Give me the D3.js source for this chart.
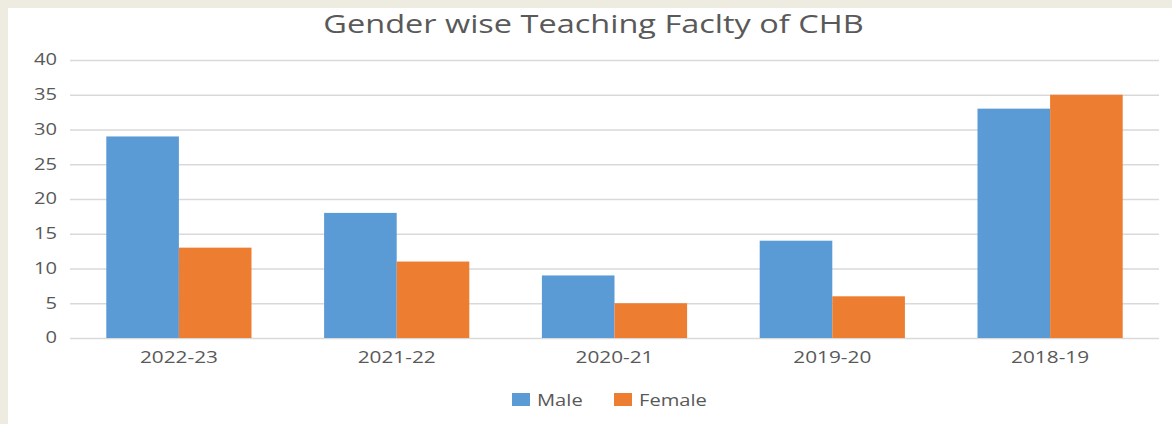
<!DOCTYPE html>
<html><head><meta charset="utf-8">
<script src="https://cdn.jsdelivr.net/npm/d3@7"></script>
<style>body{margin:0;background:#EEEBE1;}svg{display:block;}</style>
</head><body><svg id="c" width="1172" height="424"></svg>
<script>
const categories = ["2022-23","2021-22","2020-21","2019-20","2018-19"];
const maleValues = [29,18,9,14,33];
const femaleValues = [13,11,5,6,35];
const seriesNames = ["Male","Female"];
const yTicks = [0,5,10,15,20,25,30,35,40];
const colors = ["#5B9BD5","#ED7D31"];
const title = "Gender wise Teaching Faclty of CHB";

const SX = 1.3; // horizontal stretch of the reference rendering
function stretch(sel){
  sel.each(function(){
    const t = d3.select(this);
    const ax = +t.attr("x") || 0;
    t.attr("transform", `translate(${ax},0) scale(${SX},1) translate(${-ax},0)`);
  });
}

const svg = d3.select("#c");
svg.append("rect").attr("x",8).attr("y",8).attr("width",1164).attr("height",416).attr("fill","#fff");
const m = {l:70, r:1159, t:60, b:338};
const x = d3.scaleBand().domain(categories).range([m.l,m.r]).padding(0);
const y = d3.scaleLinear().domain([0,40]).range([m.b,m.t]);
const font = "'Open Sans', sans-serif";
const tc = "#595959";

svg.append("text").attr("x",593.5).attr("y",33).attr("text-anchor","middle")
  .attr("font-family",font).attr("font-size",25).attr("fill",tc).text(title).call(stretch);

const yAxis = svg.append("g").attr("transform",`translate(${m.l},0)`)
  .call(d3.axisLeft(y).tickValues(yTicks).tickSize(-(m.r-m.l)).tickPadding(13));
yAxis.select(".domain").remove();
yAxis.selectAll("line").attr("stroke","#D9D9D9").attr("stroke-width",1.5);
yAxis.selectAll("text").attr("font-family",font).attr("font-size",15.5).attr("fill",tc).call(stretch);

const x1 = d3.scaleBand().domain(seriesNames).range([0,x.bandwidth()]).paddingInner(0).paddingOuter(0.5);
const data = categories.map((c,i)=>({c, vals:[maleValues[i],femaleValues[i]]}));
const g = svg.append("g");
data.forEach(d=>{
  d.vals.forEach((v,j)=>{
    g.append("rect").attr("x",x(d.c)+x1(seriesNames[j])).attr("width",x1.bandwidth())
      .attr("y",y(v)).attr("height",y(0)-y(v)).attr("fill",colors[j]);
  });
});

const xAxis = svg.append("g").attr("transform",`translate(0,${m.b})`)
  .call(d3.axisBottom(x).tickSize(0).tickPadding(14));
xAxis.select(".domain").remove();
xAxis.selectAll("text").attr("font-family",font).attr("font-size",16).attr("fill",tc).call(stretch);

const legendX = [512,614];
seriesNames.forEach((s,j)=>{
  svg.append("rect").attr("x",legendX[j]).attr("y",393).attr("width",18).attr("height",13).attr("fill",colors[j]);
  svg.append("text").attr("x",legendX[j]+25).attr("y",406).attr("font-family",font).attr("font-size",15.5)
    .attr("fill",tc).text(s).call(stretch);
});
</script></body></html>
